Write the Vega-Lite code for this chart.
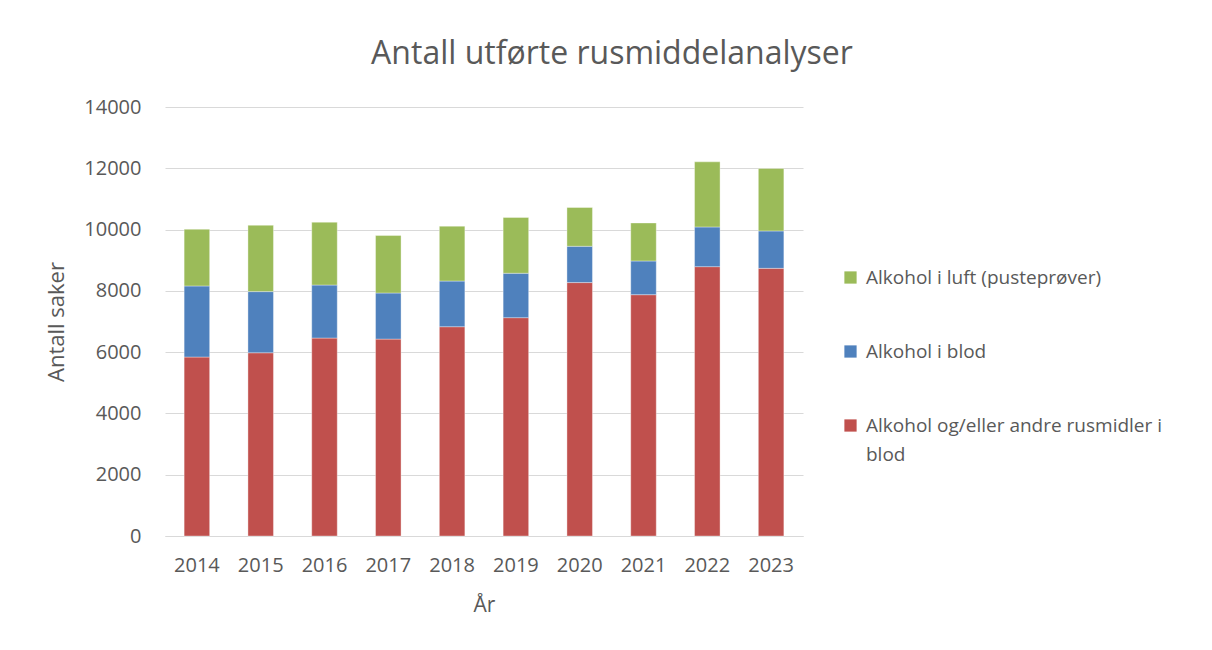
{
  "$schema": "https://vega.github.io/schema/vega-lite/v6.json",
  "width": 638,
  "height": 429,
  "autosize": {"type": "none"},
  "padding": {"left": 165, "top": 107, "right": 409, "bottom": 114},
  "background": "white",
  "title": {
    "text": "Antall utførte rusmiddelanalyser",
    "font": "Open Sans",
    "fontSize": 32,
    "fontWeight": "normal",
    "color": "#595959",
    "anchor": "middle",
    "dx": 128,
    "offset": 26
  },
  "data": {
    "values": [
      {"year": "2014", "series": "Alkohol og/eller andre rusmidler i blod", "ord": 1, "value": 5840},
      {"year": "2014", "series": "Alkohol i blod", "ord": 2, "value": 2320},
      {"year": "2014", "series": "Alkohol i luft (pusteprøver)", "ord": 3, "value": 1850},
      {"year": "2015", "series": "Alkohol og/eller andre rusmidler i blod", "ord": 1, "value": 5980},
      {"year": "2015", "series": "Alkohol i blod", "ord": 2, "value": 1995},
      {"year": "2015", "series": "Alkohol i luft (pusteprøver)", "ord": 3, "value": 2165},
      {"year": "2016", "series": "Alkohol og/eller andre rusmidler i blod", "ord": 1, "value": 6460},
      {"year": "2016", "series": "Alkohol i blod", "ord": 2, "value": 1730},
      {"year": "2016", "series": "Alkohol i luft (pusteprøver)", "ord": 3, "value": 2050},
      {"year": "2017", "series": "Alkohol og/eller andre rusmidler i blod", "ord": 1, "value": 6425},
      {"year": "2017", "series": "Alkohol i blod", "ord": 2, "value": 1505},
      {"year": "2017", "series": "Alkohol i luft (pusteprøver)", "ord": 3, "value": 1875},
      {"year": "2018", "series": "Alkohol og/eller andre rusmidler i blod", "ord": 1, "value": 6830},
      {"year": "2018", "series": "Alkohol i blod", "ord": 2, "value": 1490},
      {"year": "2018", "series": "Alkohol i luft (pusteprøver)", "ord": 3, "value": 1790},
      {"year": "2019", "series": "Alkohol og/eller andre rusmidler i blod", "ord": 1, "value": 7125},
      {"year": "2019", "series": "Alkohol i blod", "ord": 2, "value": 1450},
      {"year": "2019", "series": "Alkohol i luft (pusteprøver)", "ord": 3, "value": 1820},
      {"year": "2020", "series": "Alkohol og/eller andre rusmidler i blod", "ord": 1, "value": 8270},
      {"year": "2020", "series": "Alkohol i blod", "ord": 2, "value": 1185},
      {"year": "2020", "series": "Alkohol i luft (pusteprøver)", "ord": 3, "value": 1265},
      {"year": "2021", "series": "Alkohol og/eller andre rusmidler i blod", "ord": 1, "value": 7875},
      {"year": "2021", "series": "Alkohol i blod", "ord": 2, "value": 1100},
      {"year": "2021", "series": "Alkohol i luft (pusteprøver)", "ord": 3, "value": 1240},
      {"year": "2022", "series": "Alkohol og/eller andre rusmidler i blod", "ord": 1, "value": 8790},
      {"year": "2022", "series": "Alkohol i blod", "ord": 2, "value": 1295},
      {"year": "2022", "series": "Alkohol i luft (pusteprøver)", "ord": 3, "value": 2125},
      {"year": "2023", "series": "Alkohol og/eller andre rusmidler i blod", "ord": 1, "value": 8735},
      {"year": "2023", "series": "Alkohol i blod", "ord": 2, "value": 1220},
      {"year": "2023", "series": "Alkohol i luft (pusteprøver)", "ord": 3, "value": 2040}
    ]
  },
  "mark": {"type": "bar", "stroke": "white", "strokeWidth": 0.6, "strokeOpacity": 0.6},
  "encoding": {
    "x": {
      "field": "year",
      "type": "ordinal",
      "title": "År",
      "scale": {"paddingInner": 0.6, "paddingOuter": 0.3},
      "axis": {
        "labelAngle": 0,
        "labelFont": "Open Sans",
        "labelFontSize": 20,
        "labelColor": "#595959",
        "labelPadding": 19,
        "ticks": false,
        "domainColor": "#d9d9d9",
        "domainWidth": 1,
        "titleFont": "Open Sans",
        "titleFontSize": 21,
        "titleFontWeight": "normal",
        "titleColor": "#595959",
        "titlePadding": 19
      }
    },
    "y": {
      "field": "value",
      "type": "quantitative",
      "stack": "zero",
      "title": "Antall saker",
      "scale": {"domain": [0, 14000], "nice": false},
      "axis": {
        "values": [0, 2000, 4000, 6000, 8000, 10000, 12000, 14000],
        "format": "d",
        "labelFont": "Open Sans",
        "labelFontSize": 20,
        "labelColor": "#595959",
        "labelPadding": 24,
        "ticks": false,
        "domain": false,
        "gridColor": "#d9d9d9",
        "gridWidth": 1,
        "titleFont": "Open Sans",
        "titleFontSize": 22,
        "titleFontWeight": "normal",
        "titleColor": "#595959",
        "titlePadding": 15
      }
    },
    "color": {
      "field": "series",
      "type": "nominal",
      "title": null,
      "scale": {
        "domain": ["Alkohol i luft (pusteprøver)", "Alkohol i blod", "Alkohol og/eller andre rusmidler i blod"],
        "range": ["#9BBB59", "#4F81BD", "#C0504D"]
      },
      "legend": {
        "orient": "none",
        "legendX": 676,
        "legendY": 161,
        "symbolType": "square",
        "symbolSize": 150,
        "symbolStrokeWidth": 0,
        "labelFont": "Open Sans",
        "labelFontSize": 19,
        "labelColor": "#595959",
        "labelLimit": 400,
        "labelOffset": 6,
        "rowPadding": 54,
        "labelExpr": "datum.label == 'Alkohol og/eller andre rusmidler i blod' ? ['Alkohol og/eller andre rusmidler i', 'blod'] : datum.label"
      }
    },
    "order": {"field": "ord", "type": "quantitative"}
  },
  "config": {
    "view": {"stroke": null},
    "style": {"guide-label": {"lineHeight": 29}}
  }
}
